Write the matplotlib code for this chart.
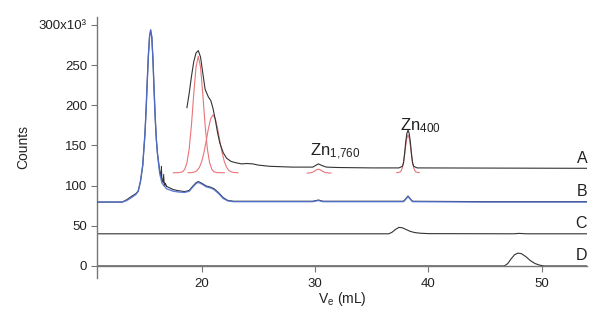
import matplotlib
matplotlib.use("Agg")
import matplotlib.pyplot as plt
import numpy as np

plt.rcParams['font.family'] = ['Liberation Sans', 'DejaVu Sans']
plt.rcParams['mathtext.fontset'] = 'custom'
plt.rcParams['mathtext.rm'] = 'Liberation Sans'
plt.rcParams['mathtext.it'] = 'Liberation Sans:italic'
plt.rcParams['mathtext.default'] = 'regular'

# Trace A (black, offset ~122)
a_x = [18.7, 18.9, 19.1, 19.3, 19.5, 19.7, 19.9, 20.1, 20.3, 20.6, 20.8, 21.0, 21.2,
       21.4, 21.6, 21.9, 22.2, 22.6, 23.0, 23.5, 24.0, 24.5, 25.0, 26.0, 27.0, 28.0,
       29.8, 30.1, 30.3, 30.6, 31.0, 32.0, 35.0, 37.4, 37.7, 37.8, 37.9, 38.0, 38.1,
       38.2, 38.3, 38.4, 38.5, 38.6, 38.7, 39.0, 45.0, 54.0]
a_y = [197, 215, 236, 254, 265, 268, 260, 240, 220, 210, 206, 196, 182,
       166, 153, 141, 134, 130, 128.5, 127, 127.5, 127, 125.5, 124, 123.5, 123,
       123, 125.5, 127, 125, 123, 122.5, 122, 122, 124, 128, 140, 155, 165,
       169, 165, 155, 140, 128, 124, 122, 121.8, 121.5]

# Fitted components on trace A (red)
fit1_x = [17.5, 18.0, 18.3, 18.5, 18.7, 18.9, 19.1, 19.3, 19.5, 19.7, 19.9, 20.1,
          20.3, 20.5, 20.7, 20.9, 21.1, 21.4, 22.0]
fit1_y = [116, 116.1, 117.1, 120.1, 128.3, 145.9, 175.6, 213.7, 247.4, 261, 247.4, 213.7,
          175.6, 145.9, 128.3, 120.1, 117.1, 116.1, 116]
fit2_x = [18.8, 19.1, 19.4, 19.6, 19.8, 20.0, 20.2, 20.4, 20.6, 20.8, 21.0, 21.2, 21.4,
          21.6, 21.8, 22.0, 22.2, 22.4, 22.6, 22.9, 23.2]
fit2_y = [116, 116.2, 117.0, 118.8, 122.7, 129.8, 141, 155.7, 171.3, 183.4, 188, 183.4, 171.3,
          155.7, 141, 129.8, 122.7, 118.8, 117.0, 116.2, 116]
fit3_x = [29.3, 29.7, 29.9, 30.1, 30.3, 30.5, 30.7, 30.9, 31.4]
fit3_y = [115.5, 116.2, 117.5, 119.4, 120.5, 119.4, 117.5, 116.2, 115.5]
fit4_x = [37.2, 37.5, 37.6, 37.7, 37.8, 37.9, 38.0, 38.1, 38.2, 38.3, 38.4, 38.5, 38.6,
          38.7, 38.8, 38.9, 39.2]
fit4_y = [116, 116.9, 118.6, 122.4, 129.1, 138.9, 150.1, 159.4, 163, 159.4, 150.1, 138.9, 129.1,
          122.4, 118.6, 116.9, 116]

# Trace B (black and blue, offset ~80)
b_x = [10.8, 13.0, 13.4, 13.8, 14.2, 14.4, 14.6, 14.8, 15.0, 15.1, 15.2, 15.3, 15.4, 15.5,
       15.6, 15.7, 15.8, 15.9, 16.0, 16.1, 16.3, 16.5, 16.9, 17.5, 18.0, 18.5, 18.9, 19.2,
       19.5, 19.7, 20.0, 20.4, 20.8, 21.1, 21.5, 21.9, 22.3, 22.8, 25.0, 29.8, 30.3, 30.7,
       37.8, 38.0, 38.2, 38.4, 38.6, 45.0, 54.0]
b_blue = [79.5, 79.5, 81.5, 85, 89, 93, 105, 125, 165, 195, 230, 262, 285, 294,
          285, 258, 220, 185, 158, 140, 115, 103, 96, 93, 92, 91.5, 93, 98,
          102.5, 104, 102, 98.5, 97, 95, 90, 84, 81, 80, 80, 80, 81.5, 80,
          80, 83, 86.5, 83, 80, 79.5, 79.5]
b_black = [79.5, 79.5, 82.5, 86.5, 90, 93, 105, 125, 165, 195, 230, 262, 285, 293,
           285, 258, 220, 185, 158, 140, 118, 108, 99, 95, 93.5, 92.5, 94, 99,
           103.5, 105, 103, 99.5, 98, 96, 91, 85, 81.5, 80.5, 80.5, 80.5, 82, 80.5,
           80.5, 83.5, 87, 83.5, 80.5, 80, 80]
# black noise spikes just after the main peak
spike_x = [16.3, 16.4, 16.45, 16.5, 16.6, 16.65, 16.7, 16.8, 16.9]
spike_y = [118, 112, 124, 106, 104, 114, 100, 103, 99]

# Trace C (offset 40)
c_x = [10.8, 36.5, 36.8, 37.1, 37.4, 37.7, 38.0, 38.4, 38.8, 39.3, 40.0, 47.5, 48.0, 48.6, 54.0]
c_y = [40, 40, 42, 45.5, 48, 47.5, 45.5, 43, 41.5, 40.7, 40.2, 40, 40.5, 40, 40]

# Trace D (offset 0)
d_x = [10.8, 46.7, 47.0, 47.3, 47.6, 47.9, 48.2, 48.6, 49.0, 49.4, 49.8, 50.2, 54.0]
d_y = [0, 0, 3, 9, 14, 16, 15.3, 11.5, 6.5, 3, 1, 0, 0]

trace_labels = ['A', 'B', 'C', 'D']
label_y = [124.5, 83, 43, 4]

black = '#333333'
blue = '#5070d0'
red = '#e8747a'
grey = '#777777'

fig = plt.figure(figsize=(6.01, 3.12), dpi=100)
ax = fig.add_axes([0.162, 0.109, 0.815, 0.837])

ax.plot(a_x, a_y, color=black, lw=0.8, zorder=3)
for fx, fy in [(fit1_x, fit1_y), (fit2_x, fit2_y), (fit3_x, fit3_y), (fit4_x, fit4_y)]:
    ax.plot(fx, fy, color=red, lw=0.8, zorder=2)
ax.plot(b_x, b_black, color=black, lw=0.8, zorder=3)
ax.plot(spike_x, spike_y, color=black, lw=0.7, zorder=3)
ax.plot(b_x, b_blue, color=blue, lw=1.0, alpha=0.9, zorder=4)
ax.plot(c_x, c_y, color=black, lw=0.8)
ax.plot(d_x, d_y, color=black, lw=0.8)

for lab, ly in zip(trace_labels, label_y):
    ax.text(54.0, ly, lab, ha='right', va='bottom', fontsize=11.5, color='#222222')

ax.text(29.55, 137, r'Zn$_{1{,}760}$', ha='left', va='baseline', fontsize=12, color='#222222')
ax.text(37.5, 169, r'Zn$_{400}$', ha='left', va='baseline', fontsize=12, color='#222222')

ax.set_xlim(10.8, 54.0)
ax.set_ylim(-15, 310)
ax.spines['top'].set_visible(False)
ax.spines['right'].set_visible(False)
ax.spines['bottom'].set_position(('data', 0))
for s in ['left', 'bottom']:
    ax.spines[s].set_color(grey)
    ax.spines[s].set_linewidth(1.0)

ax.set_xticks([20, 30, 40, 50])
ax.set_yticks([0, 50, 100, 150, 200, 250, 300])
ax.set_yticklabels(['0', '50', '100', '150', '200', '250', '300x10³'])
ax.tick_params(direction='out', length=4, width=0.8, color=grey, labelsize=9.5,
               labelcolor='#222222')
ax.tick_params(axis='x', pad=5)

ax.set_ylabel('Counts', fontsize=10, color='#222222', labelpad=6)
ax.set_xlabel(r'V$_e$ (mL)', fontsize=10, color='#222222', labelpad=2)
ax.xaxis.set_label_coords(0.5, -0.045)

fig.savefig('out.png', dpi=100)
